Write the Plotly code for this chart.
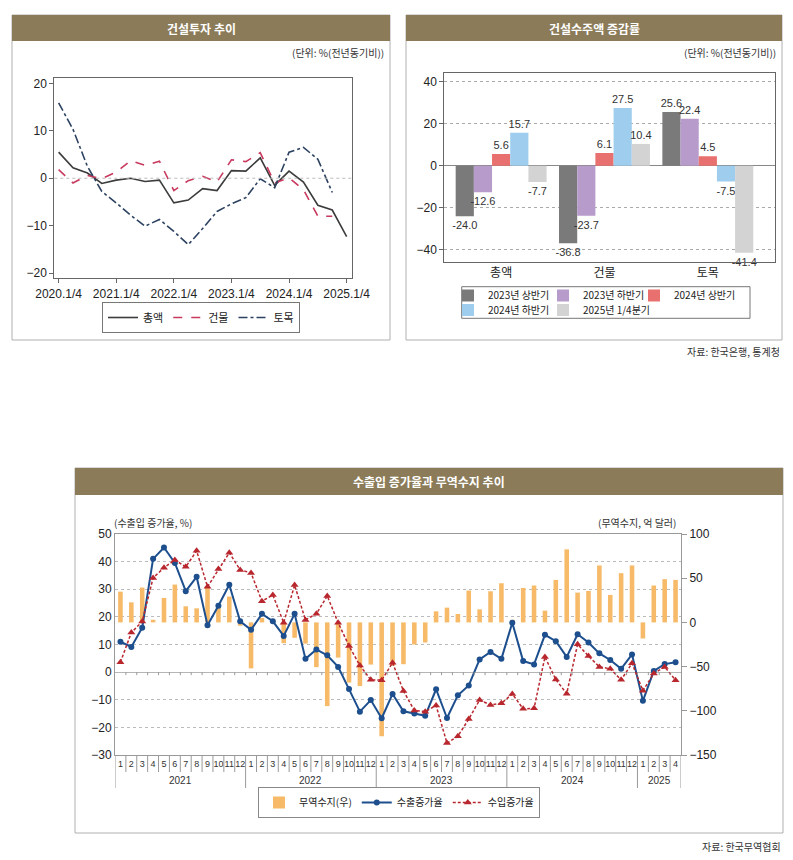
import plotly.graph_objects as go

# ---------------- data ----------------
# 건설투자 추이 (quarterly, 2020.1/4 ~ 2025.1/4)
q_ticklabels = ["2020.1/4", "2021.1/4", "2022.1/4", "2023.1/4", "2024.1/4", "2025.1/4"]
total = [5.5, 2.2, 1.1, -1.1, -0.4, 0.0, -0.7, -0.4, -5.2, -4.6, -2.2, -2.6,
         1.6, 1.5, 4.3, -1.5, 1.5, -0.8, -5.7, -6.7, -12.3]
building = [1.8, -1.0, 0.6, -0.1, 1.3, 3.7, 2.7, 3.6, -2.6, -0.5, 0.4, -0.8,
            3.9, 3.5, 5.4, -1.0, 0.1, -2.4, -8.0, -8.0]
civil = [15.9, 10.3, 2.5, -2.8, -5.2, -7.8, -10.1, -8.7, -11.2, -14.0, -10.6, -7.0,
         -5.4, -4.1, -0.1, -2.0, 5.5, 6.5, 4.0, -3.0]

# 건설수주액 증감률
order_cats = ["총액", "건물", "토목"]
order_series = ["2023년 상반기", "2023년 하반기", "2024년 상반기", "2024년 하반기", "2025년 1/4분기"]
h1_2023 = [-24.0, -36.8, 25.6]
h2_2023 = [-12.6, -23.7, 22.4]
h1_2024 = [5.6, 6.1, 4.5]
h2_2024 = [15.7, 27.5, -7.5]
q1_2025 = [-7.7, 10.4, -41.4]

# 수출입 증가율과 무역수지 추이 (monthly 2021.1 ~ 2025.4)
years = ["2021", "2022", "2023", "2024", "2025"]
months_per_year = [12, 12, 12, 12, 4]
export_growth = [11.0, 9.1, 16.1, 41.0, 45.1, 39.5, 29.3, 34.5, 17.0, 24.0, 31.6, 18.4,
                 15.3, 21.1, 18.4, 13.1, 21.1, 4.8, 8.2, 6.1, 1.9, -6.1, -14.3, -10.1,
                 -16.7, -7.9, -14.2, -15.0, -15.8, -6.2, -16.6, -8.4, -4.8, 4.6, 7.3, 4.8,
                 17.9, 4.0, 2.8, 13.5, 11.2, 5.5, 13.7, 10.7, 6.8, 4.4, 1.2, 6.4,
                 -10.4, 0.4, 2.9, 3.6]
import_growth = [3.6, 14.3, 18.3, 34.1, 37.8, 40.6, 38.1, 43.9, 30.9, 37.3, 43.2, 37.0,
                 35.9, 25.7, 27.9, 17.9, 31.5, 18.9, 21.1, 27.6, 17.9, 9.5, 2.4, -2.8,
                 -2.9, 3.4, -6.8, -13.9, -14.3, -12.1, -25.7, -23.2, -17.0, -10.1, -11.9, -11.3,
                 -7.9, -13.3, -13.1, 5.5, -2.7, -7.8, 10.1, 5.8, 1.9, 1.2, -2.8, 3.2,
                 -6.7, -0.5, 1.9, -2.9]
trade_balance = [34.8, 22.7, 39.4, 3.0, 27.7, 42.8, 18.2, 15.9, 40.5, 17.0, 29.2, -3.8,
                 -52.0, 5.0, 1.5, -23.5, -17.4, -24.0, -50.6, -94.7, -39.8, -68.0, -72.0, -47.7,
                 -128.8, -49.0, -47.3, -25.0, -22.7, 12.5, 16.7, 9.5, 36.0, 14.8, 35.2, 44.3,
                 3.0, 39.0, 41.7, 13.3, 48.1, 82.6, 33.7, 35.6, 64.4, 31.1, 55.7, 64.4,
                 -18.2, 41.7, 48.9, 48.1]

# ---------------- helpers ----------------
W, H = 793, 860
def px(x):
    return x / W
def py(y):
    return 1 - y / H

FONT = "Liberation Sans Narrow, Liberation Sans, Noto Sans CJK KR, sans-serif"
KFONT = "Noto Sans CJK KR, sans-serif"
BROWN = "#8c7b58"

fig = go.Figure()

# ---------------- top-left: 건설투자 추이 ----------------
fig.add_trace(go.Scatter(x=list(range(len(total))), y=total, xaxis="x", yaxis="y",
                         mode="lines", name="총액", legend="legend",
                         line=dict(color="#3c3c3c", width=1.6)))
fig.add_trace(go.Scatter(x=list(range(len(building))), y=building, xaxis="x", yaxis="y",
                         mode="lines", name="건물", legend="legend",
                         line=dict(color="#c83a5e", width=1.6, dash="dash")))
fig.add_trace(go.Scatter(x=list(range(len(civil))), y=civil, xaxis="x", yaxis="y",
                         mode="lines", name="토목", legend="legend",
                         line=dict(color="#2c4260", width=1.6, dash="dashdot")))

# ---------------- top-right: 건설수주액 증감률 ----------------
bar_sets = [h1_2023, h2_2023, h1_2024, h2_2024, q1_2025]
bar_colors = ["#7a7a7a", "#b79bcb", "#e8706e", "#9fcdee", "#d3d3d3"]
# one small legend per entry so the two-row legend keeps the original column layout
legend_names = ["legend2", "legend3", "legend5", "legend6", "legend7"]
legend_pos = [(488, 295.5), (583, 295.5), (674, 295.5), (488, 310), (583, 310)]
for i, (name, vals, col) in enumerate(zip(order_series, bar_sets, bar_colors)):
    fig.add_trace(go.Bar(x=list(range(len(order_cats))), y=vals, xaxis="x2", yaxis="y2",
                         name=name, marker=dict(color=col, line=dict(width=0)),
                         text=[f"{v:.1f}" for v in vals], textposition="outside",
                         constraintext="none",
                         textfont=dict(size=11, color="#333", family=FONT),
                         cliponaxis=False, legend=legend_names[i]))

# ---------------- bottom: 수출입 증가율과 무역수지 추이 ----------------
n_months = len(export_growth)
mx = list(range(n_months))
month_labels = []
for y, n in zip(years, months_per_year):
    month_labels += [str(m) for m in range(1, n + 1)]

fig.add_trace(go.Bar(x=mx, y=trade_balance, xaxis="x3", yaxis="y3", name="무역수지(우)",
                     marker=dict(color="#f6ba68", line=dict(width=0)), width=0.42,
                     legend="legend4"))
fig.add_trace(go.Scatter(x=mx, y=export_growth, xaxis="x3", yaxis="y4", name="수출증가율",
                         mode="lines+markers", legend="legend4",
                         line=dict(color="#1d4f8e", width=2),
                         marker=dict(symbol="circle", size=6, color="#1d4f8e")))
fig.add_trace(go.Scatter(x=mx, y=import_growth, xaxis="x3", yaxis="y4", name="수입증가율",
                         mode="lines+markers", legend="legend4",
                         line=dict(color="#b8272e", width=1.5, dash="3px,2px"),
                         marker=dict(symbol="triangle-up", size=7, color="#b8272e")))

# ---------------- layout ----------------
axcol = "#666"
tickfont = dict(family=FONT, size=12, color="#222")
layout = dict(
    width=W, height=H, autosize=False,
    margin=dict(l=0, r=0, t=0, b=0, autoexpand=False),
    paper_bgcolor="white", plot_bgcolor="white",
    font=dict(family=FONT, color="#222"),
    barmode="group", bargap=0.12, bargroupgap=0,
    xaxis=dict(domain=[px(54.3), px(351.7)], anchor="y", range=[-0.3, 20.35],
               tickvals=[0, 4, 8, 12, 16, 20], ticktext=q_ticklabels,
               ticks="outside", ticklen=4, tickcolor=axcol,
               showline=True, mirror=True, linecolor=axcol, linewidth=1,
               showgrid=False, zeroline=False, tickfont=tickfont),
    yaxis=dict(domain=[py(278.3), py(77.7)], anchor="x", range=[-21.1, 21.2],
               tickvals=[-20, -10, 0, 10, 20], ticks="outside", ticklen=4, tickcolor=axcol,
               showline=True, mirror=True, linecolor=axcol, linewidth=1,
               showgrid=False, zeroline=False, tickfont=tickfont),
    xaxis2=dict(domain=[px(444.3), px(775)], anchor="y2", range=[-0.55, 2.65],
                tickvals=list(range(len(order_cats))), ticktext=order_cats, ticks="",
                showline=True, mirror=True, linecolor=axcol, linewidth=1,
                showgrid=False, zeroline=False,
                tickfont=dict(family=KFONT, size=12, color="#222")),
    yaxis2=dict(domain=[py(261.7), py(72.7)], anchor="x2", range=[-45.6, 44.3],
                tickvals=[-40, -20, 0, 20, 40], ticks="outside", ticklen=4, tickcolor=axcol,
                showline=True, mirror=True, linecolor=axcol, linewidth=1,
                showgrid=True, gridcolor="#aaaaaa", griddash="dot", gridwidth=1,
                zeroline=True, zerolinecolor="#888", zerolinewidth=1, tickfont=tickfont),
    xaxis3=dict(domain=[px(115), px(681)], anchor="y3", range=[-0.5, n_months - 0.5],
                tickvals=mx, ticktext=month_labels, ticks="", tickangle=0,
                showline=True, mirror=True, linecolor="#999", linewidth=1,
                showgrid=False, zeroline=False,
                tickfont=dict(family=FONT, size=9, color="#333")),
    yaxis3=dict(domain=[py(755), py(534)], anchor="x3", side="right", range=[-150, 100],
                tickvals=[-150, -100, -50, 0, 50, 100], ticks="outside", ticklen=5,
                tickcolor="#999", showline=True, linecolor="#999", linewidth=1,
                showgrid=False, zeroline=False, tickfont=tickfont),
    yaxis4=dict(overlaying="y3", anchor="x3", side="left", range=[-30, 50],
                tickvals=[-30, -20, -10, 0, 10, 20, 30, 40, 50], ticks="",
                showline=True, linecolor="#999", linewidth=1,
                showgrid=True, gridcolor="#bbbbbb", griddash="dot", gridwidth=1,
                zeroline=True, zerolinecolor="#b5b5b5", zerolinewidth=1, tickfont=tickfont),
    legend=dict(orientation="h", x=px(201), xanchor="center", y=py(317.5), yanchor="middle",
                bordercolor="#777", borderwidth=1, bgcolor="white",
                font=dict(family=KFONT, size=11, color="#222"),
                itemwidth=30, tracegroupgap=0),
    legend4=dict(orientation="h", x=px(399), xanchor="center", y=py(802.5), yanchor="middle",
                 bordercolor="#888", borderwidth=1, bgcolor="white",
                 font=dict(family=KFONT, size=10, color="#222"),
                 itemwidth=30, tracegroupgap=0),
)
for lname, (tx, ty) in zip(legend_names, legend_pos):
    layout[lname] = dict(orientation="h", x=px(tx - 40), xanchor="left", y=py(ty),
                         yanchor="middle", bgcolor="rgba(0,0,0,0)", itemwidth=30,
                         font=dict(family=KFONT, size=10, color="#222"))
fig.update_layout(**layout)

shapes = []
annotations = []

def panel(x0, x1, y0, y1, title, ty1):
    shapes.append(dict(type="rect", xref="paper", yref="paper",
                       x0=px(x0), x1=px(x1), y0=py(y1), y1=py(y0),
                       line=dict(color="#b0b0b0", width=1), fillcolor="rgba(0,0,0,0)", layer="below"))
    shapes.append(dict(type="rect", xref="paper", yref="paper",
                       x0=px(x0), x1=px(x1), y0=py(ty1), y1=py(y0),
                       line=dict(width=0), fillcolor=BROWN, layer="below"))
    annotations.append(dict(text=f"<b>{title}</b>", xref="paper", yref="paper",
                            x=px((x0 + x1) / 2), y=py((y0 + ty1) / 2),
                            xanchor="center", yanchor="middle", showarrow=False,
                            font=dict(family=KFONT, size=12, color="white")))

panel(12, 390, 15, 340, "건설투자 추이", 41)
panel(406, 782, 15, 340, "건설수주액 증감률", 41)
panel(75, 783, 468, 833, "수출입 증가율과 무역수지 추이", 495)

def text(t, x, y, anchor="right", size=10, color="#333"):
    annotations.append(dict(text=t, xref="paper", yref="paper", x=px(x), y=py(y),
                            xanchor=anchor, yanchor="middle", showarrow=False,
                            font=dict(family=KFONT, size=size, color=color)))

text("(단위: %(전년동기비))", 386, 52)
text("(단위: %(전년동기비))", 778, 52)
text("자료: 한국은행, 통계청", 782, 351)
text("(수출입 증가율, %)", 112, 522, anchor="left")
text("(무역수지, 억 달러)", 678, 522)
text("자료: 한국무역협회", 783, 846)

# dotted zero line in top-left chart
shapes.append(dict(type="line", xref="x domain", yref="y", x0=0, x1=1, y0=0, y1=0,
                   line=dict(color="#bbbbbb", width=1, dash="dot")))

# top-right legend border
shapes.append(dict(type="rect", xref="paper", yref="paper",
                   x0=px(461.7), x1=px(750), y0=py(318.3), y1=py(286.7),
                   line=dict(color="#777", width=1)))

# month cell separators and year separators for bottom chart
year_starts = [0]
for n in months_per_year:
    year_starts.append(year_starts[-1] + n)
for k in range(n_months + 1):
    is_year = k in year_starts
    shapes.append(dict(type="line", xref="x3", yref="paper", x0=k - 0.5, x1=k - 0.5,
                       y0=py(755), y1=py(788 if is_year else 772),
                       line=dict(color="#999", width=1)))
# small ticks on the zero line
for k in range(1, n_months):
    shapes.append(dict(type="line", xref="x3", yref="y4", x0=k - 0.5, x1=k - 0.5,
                       y0=0, y1=-1.1, line=dict(color="#999", width=1)))
# year labels
for i, yname in enumerate(years):
    annotations.append(dict(text=yname, xref="x3", yref="paper",
                            x=(year_starts[i] + year_starts[i + 1] - 1) / 2, y=py(780),
                            xanchor="center", yanchor="middle", showarrow=False,
                            font=dict(family=FONT, size=10, color="#333")))

fig.update_layout(shapes=shapes, annotations=annotations)
fig.write_html("out.html", config={"displayModeBar": False},
               post_script="document.body.style.margin='0px';document.body.style.overflow='hidden';")
